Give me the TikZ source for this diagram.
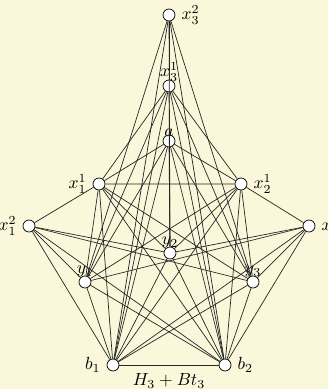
\documentclass[tikz,border=0pt]{standalone}
\usepackage{amsmath,amssymb}
\usetikzlibrary{backgrounds}
\definecolor{paper}{RGB}{250,247,218}

\begin{document}
\begin{tikzpicture}[x=0.02cm, y=-0.02cm, every node/.style={font=\normalsize},
	vtx/.style={circle, draw, fill=white, inner sep=0pt, minimum size=0.24cm, label distance=-2.5pt}]
	\fill[paper] (0,0) rectangle (328,389);
	\useasboundingbox (0,0) rectangle (328,389);
	% vertices of H_3
	\node[vtx, label=right:{$x_3^2$}] (x32) at (169,15) {};
	\node[vtx, label={[label distance=-4.5pt]above:{$x_3^1$}}] (x31) at (169,86) {};
	\node[vtx, label={[label distance=-4.5pt]above:{$a$}}] (a) at (169,141) {};
	\node[vtx, label=left:{$x_1^1$}] (x11) at (99,184) {};
	\node[vtx, label=right:{$x_2^1$}] (x21) at (241,184) {};
	\node[vtx, label=left:{$x_1^2$}] (x12) at (29,226) {};
	\node[vtx, label=right:{$x_2^2$}] (x22) at (309,226) {};
	\node[vtx, label={[label distance=-4.5pt]above:{$y_2$}}] (y2) at (170,253) {};
	\node[vtx, label={[label distance=-4.5pt]above:{$y_1$}}] (y1) at (85,282) {};
	\node[vtx, label={[label distance=-4.5pt]above:{$y_3$}}] (y3) at (253,282) {};
	% the two added vertices
	\node[vtx, label=left:{$b_1$}] (b1) at (113,365) {};
	\node[vtx, label=right:{$b_2$}] (b2) at (225,365) {};
	\node (cap) at (169,381) {$H_3+Bt_3$};

	\begin{scope}[draw=black!85]
	\draw (x32) -- (x31);
	\draw (x11) -- (x21) (x11) -- (x12) (x21) -- (x22);
	\draw (x31) -- (x11) (x31) -- (x21) (a) -- (x11) (a) -- (x21);
	\foreach \u in {x32,x31,a,x11,x21,x12,x22}
		\foreach \v in {y1,y2,y3}
			\draw (\u) -- (\v);
	\foreach \u in {x32,x31,a,x11,x21,x12,x22,y1,y2,y3}
		\draw (\u) -- (b1) (\u) -- (b2);
	\draw (b1) -- (b2);
	\end{scope}
\end{tikzpicture}
\end{document}
